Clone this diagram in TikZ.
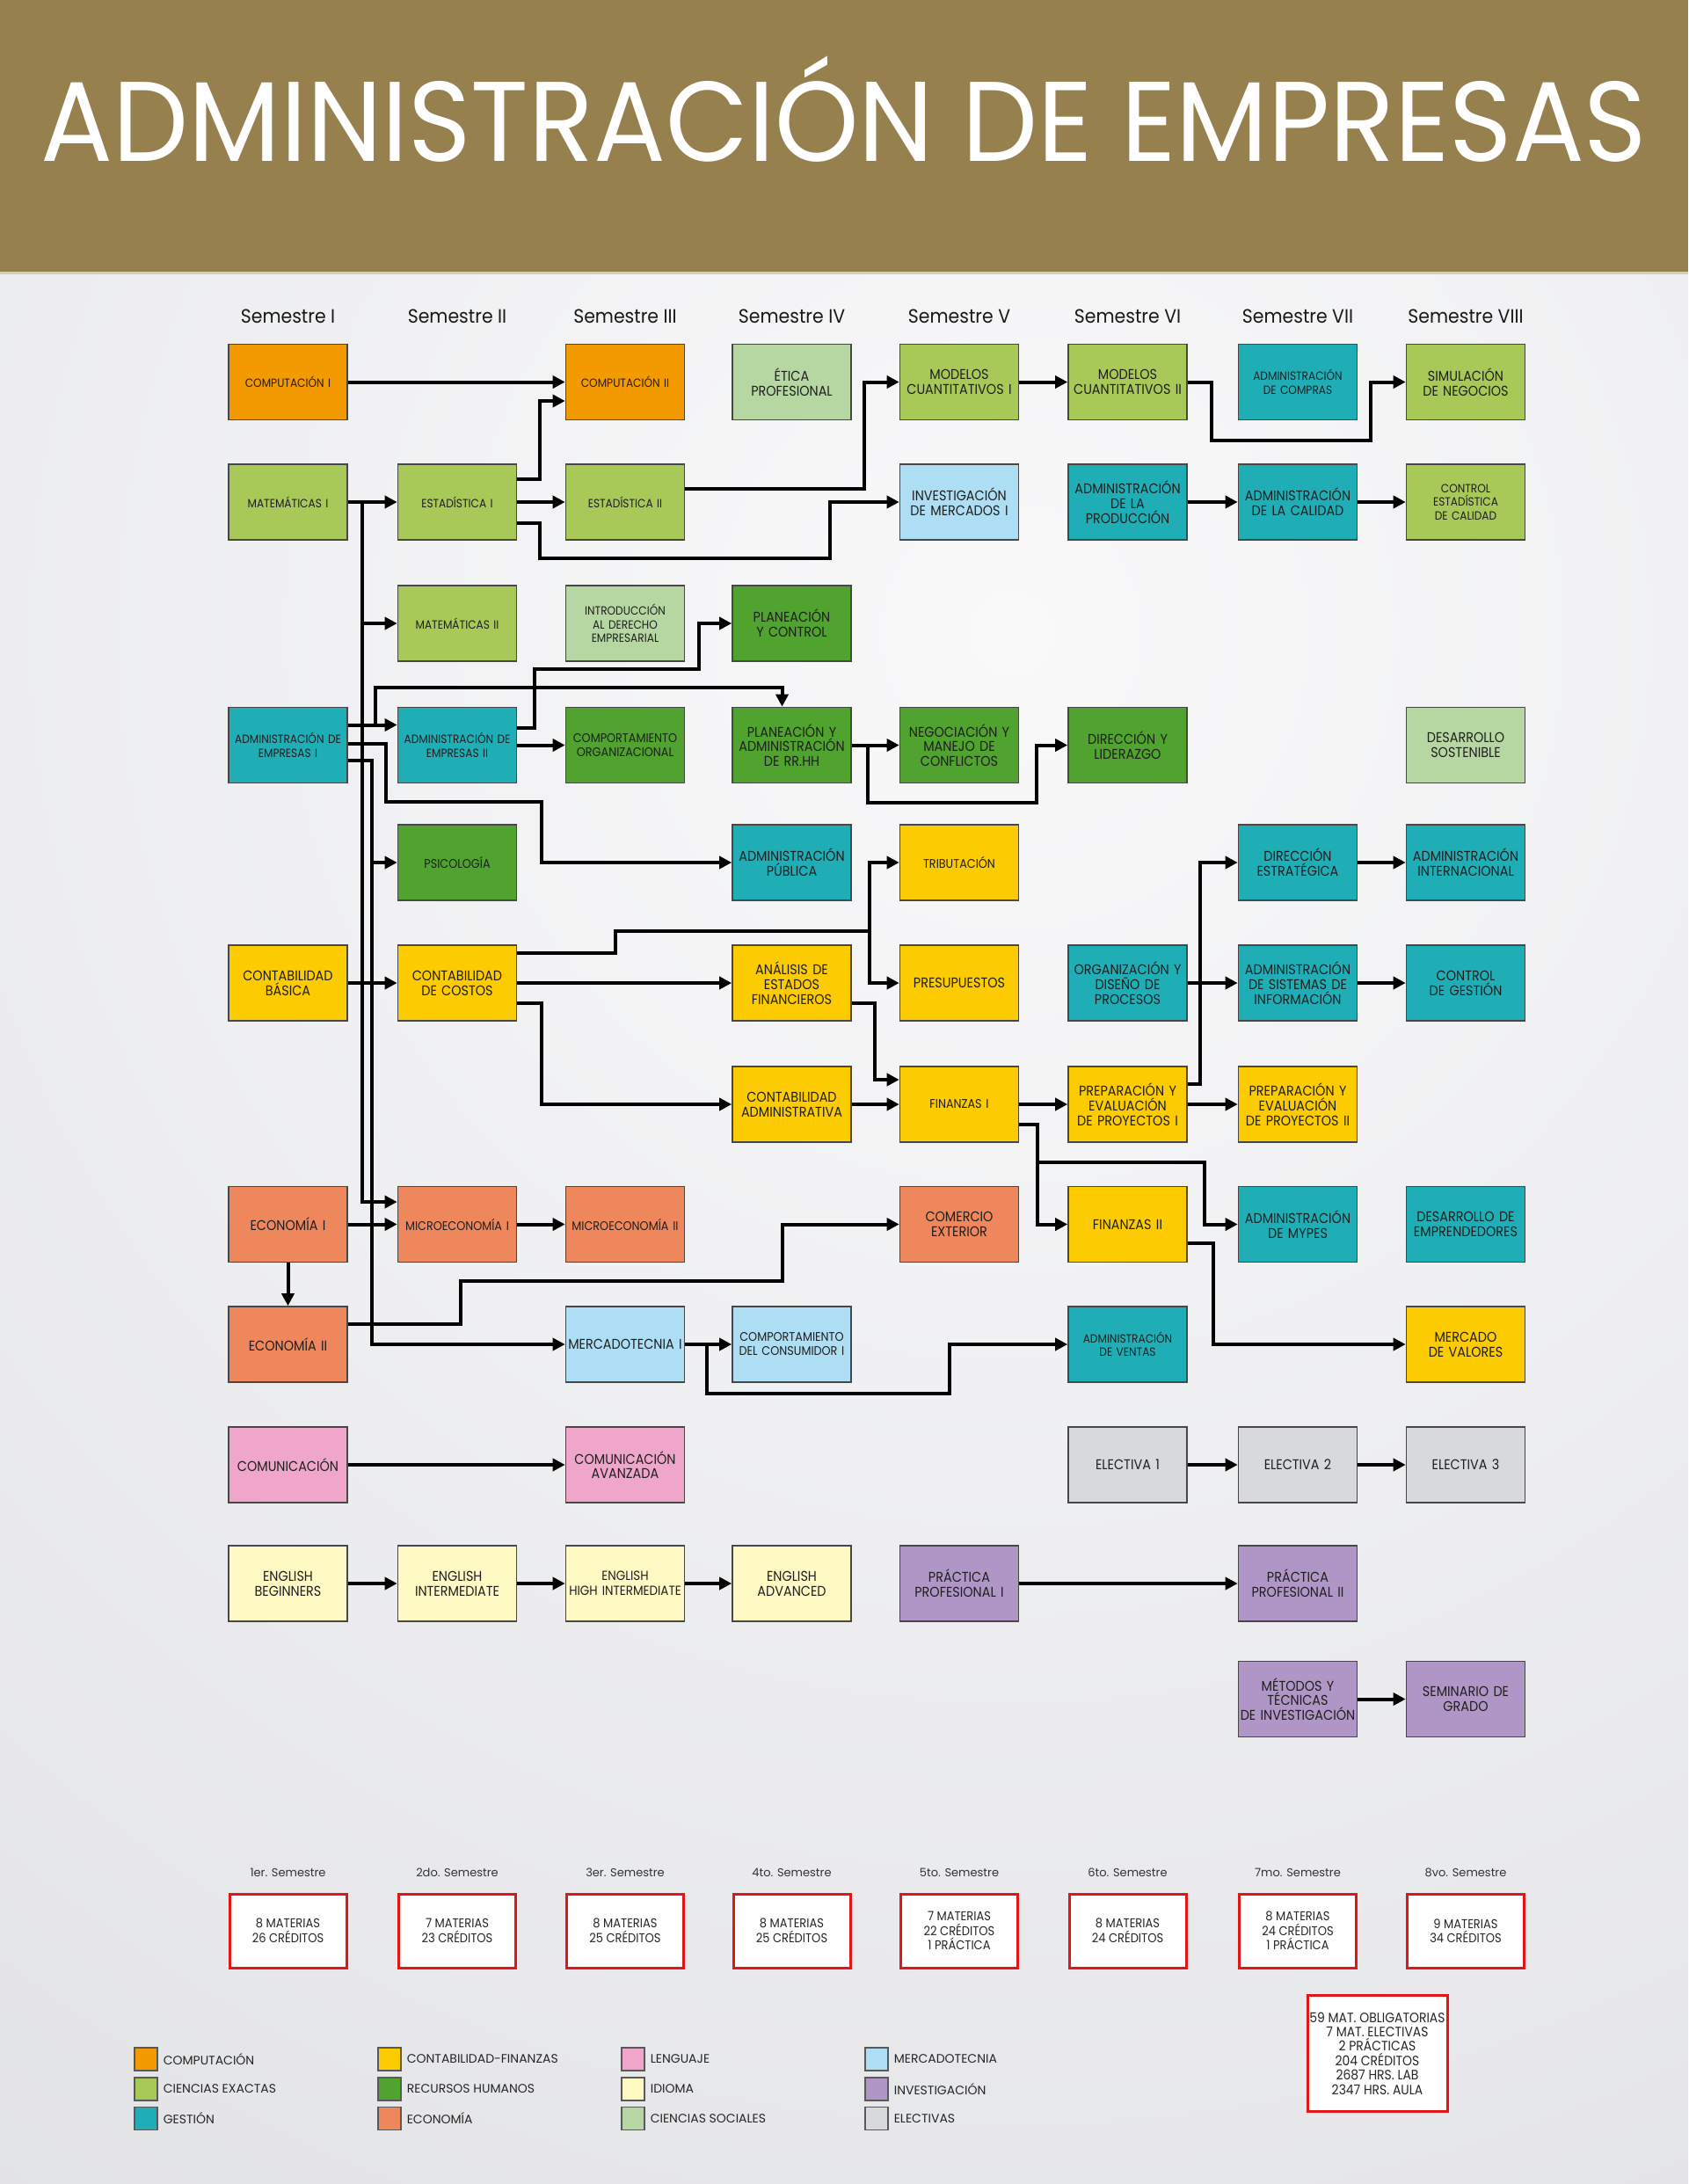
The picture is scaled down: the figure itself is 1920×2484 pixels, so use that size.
\documentclass[tikz,border=0pt]{standalone}
\usepackage{fontspec}
\usepackage{graphicx}
\usetikzlibrary{arrows.meta}
\setmainfont{Poppins}
\newfontfamily\boxfont{Poppins}[FakeStretch=0.9]
\newfontfamily\hdfont{Poppins}[FakeStretch=0.93]
\newfontfamily\titlefont{Poppins}

\definecolor{banner}{RGB}{150,128,78}
\definecolor{bannerline}{RGB}{214,205,182}
\definecolor{bgin}{RGB}{249,249,250}
\definecolor{bgout}{RGB}{214,215,219}
\definecolor{cComp}{RGB}{242,154,0}
\definecolor{cExact}{RGB}{168,200,88}
\definecolor{cGest}{RGB}{32,174,182}
\definecolor{cFin}{RGB}{252,203,0}
\definecolor{cRRHH}{RGB}{80,163,46}
\definecolor{cEcon}{RGB}{238,136,92}
\definecolor{cLeng}{RGB}{240,166,202}
\definecolor{cIdio}{RGB}{255,249,196}
\definecolor{cSoc}{RGB}{182,215,162}
\definecolor{cMerc}{RGB}{174,222,244}
\definecolor{cInv}{RGB}{176,150,198}
\definecolor{cElec}{RGB}{216,217,221}
\definecolor{sumred}{RGB}{226,22,22}

% column centres
\def\xA{327.5}\def\xB{520}\def\xC{711}\def\xD{900.5}
\def\xE{1091}\def\xF{1282.5}\def\xG{1476}\def\xH{1667}
% row centres
\def\yA{434.5}\def\yB{571}\def\yC{709}\def\yD{847.5}
\def\yE{981}\def\yF{1118}\def\yG{1256}\def\yH{1392.5}
\def\yI{1529}\def\yJ{1666}\def\yK{1801}\def\yL{1932.5}

\tikzset{
  course/.style={draw=black!72, line width=1.6pt, minimum width=135pt,
    minimum height=86pt, inner sep=0pt, text width=133pt, align=center,
    font=\boxfont\fontsize{16}{16.8}\selectfont, text=black!88},
  smalltxt/.style={font=\boxfont\fontsize{13.5}{15.5}\selectfont},
  midtxt/.style={font=\boxfont\fontsize{14.2}{16}\selectfont},
  conn/.style={line width=4pt, draw=black},
  conarrow/.style={conn, -{Triangle[length=14pt,width=14pt]}},
  sumbox/.style={draw=sumred, line width=3pt, fill=white, minimum width=133pt,
    minimum height=84pt, inner sep=0pt, align=center,
    font=\boxfont\fontsize{14.5}{16.6}\selectfont, text=black!85},
  semlab/.style={font=\fontsize{13}{15}\selectfont, text=black!80, anchor=base},
  swatch/.style={draw=black!65, line width=1.2pt, minimum width=26pt,
    minimum height=26pt, inner sep=0pt},
  legtxt/.style={anchor=west, inner sep=0pt, font=\fontsize{14}{16}\selectfont, text=black!85},
  hdr/.style={font=\hdfont\fontsize{22}{25}\selectfont, anchor=base, text=black!90}
}

\begin{document}
\begin{tikzpicture}[x=1pt,y=-1pt]
\useasboundingbox (0,0) rectangle (1920,2484);

% background
\fill[bgout] (0,311) rectangle (1920,2484);
\begin{scope}
  \clip (0,311) rectangle (1920,2484);
  \shade[inner color=bgin, outer color=bgout] (1150,720) circle (3300);
\end{scope}
\fill[banner] (0,0) rectangle (1920,311);
\fill[bannerline] (0,309) rectangle (1920,312);

% title
\node[anchor=base, inner sep=0pt, text=white] (title) at (960,183)
  {\resizebox{1826pt}{90pt}{\titlefont\raisebox{0pt}[\fontcharht\font`\H][0pt]{ADMINISTRACIÓN DE EMPRESAS}}};

% semester headers
\node[hdr] (h1) at (\xA,367) {Semestre I};
\node[hdr] (h2) at (\xB,367) {Semestre II};
\node[hdr] (h3) at (\xC,367) {Semestre III};
\node[hdr] (h4) at (\xD,367) {Semestre IV};
\node[hdr] (h5) at (\xE,367) {Semestre V};
\node[hdr] (h6) at (\xF,367) {Semestre VI};
\node[hdr] (h7) at (\xG,367) {Semestre VII};
\node[hdr] (h8) at (\xH,367) {Semestre VIII};

% ---------- courses ----------
% row 1
\node[course, fill=cComp, smalltxt] (comp1) at (\xA,\yA) {COMPUTACIÓN I};
\node[course, fill=cComp, smalltxt] (comp2) at (\xC,\yA) {COMPUTACIÓN II};
\node[course, fill=cSoc] (etica) at (\xD,\yA) {ÉTICA\\PROFESIONAL};
\node[course, fill=cExact] (mc1) at (\xE,\yA) {MODELOS\\CUANTITATIVOS I};
\node[course, fill=cExact] (mc2) at (\xF,\yA) {MODELOS\\CUANTITATIVOS II};
\node[course, fill=cGest, smalltxt] (compras) at (\xG,\yA) {ADMINISTRACIÓN\\DE COMPRAS};
\node[course, fill=cExact] (sim) at (\xH,\yA) {SIMULACIÓN\\DE NEGOCIOS};
% row 2
\node[course, fill=cExact, smalltxt] (mat1) at (\xA,\yB) {MATEMÁTICAS I};
\node[course, fill=cExact, smalltxt] (est1) at (\xB,\yB) {ESTADÍSTICA I};
\node[course, fill=cExact, smalltxt] (est2) at (\xC,\yB) {ESTADÍSTICA II};
\node[course, fill=cMerc] (invm) at (\xE,\yB) {INVESTIGACIÓN\\DE MERCADOS I};
\node[course, fill=cGest] (admprod) at (\xF,\yB) {ADMINISTRACIÓN\\DE LA\\PRODUCCIÓN};
\node[course, fill=cGest] (admcal) at (\xG,\yB) {ADMINISTRACIÓN\\DE LA CALIDAD};
\node[course, fill=cExact, smalltxt] (cec) at (\xH,\yB) {CONTROL\\ESTADÍSTICA\\DE CALIDAD};
% row 3
\node[course, fill=cExact, smalltxt] (mat2) at (\xB,\yC) {MATEMÁTICAS II};
\node[course, fill=cSoc, smalltxt] (intder) at (\xC,\yC) {INTRODUCCIÓN\\AL DERECHO\\EMPRESARIAL};
\node[course, fill=cRRHH] (pyc) at (\xD,\yC) {PLANEACIÓN\\Y CONTROL};
% row 4
\node[course, fill=cGest, smalltxt] (adm1) at (\xA,\yD) {ADMINISTRACIÓN DE\\EMPRESAS I};
\node[course, fill=cGest, smalltxt] (adm2) at (\xB,\yD) {ADMINISTRACIÓN DE\\EMPRESAS II};
\node[course, fill=cRRHH, midtxt] (comporg) at (\xC,\yD) {COMPORTAMIENTO\\ORGANIZACIONAL};
\node[course, fill=cRRHH] (pyarh) at (\xD,\yD) {PLANEACIÓN Y\\ADMINISTRACIÓN\\DE RR.HH};
\node[course, fill=cRRHH] (neg) at (\xE,\yD) {NEGOCIACIÓN Y\\MANEJO DE\\CONFLICTOS};
\node[course, fill=cRRHH] (dirlid) at (\xF,\yD) {DIRECCIÓN Y\\LIDERAZGO};
\node[course, fill=cSoc] (dsost) at (\xH,\yD) {DESARROLLO\\SOSTENIBLE};
% row 5
\node[course, fill=cRRHH, midtxt] (psico) at (\xB,\yE) {PSICOLOGÍA};
\node[course, fill=cGest] (admpub) at (\xD,\yE) {ADMINISTRACIÓN\\PÚBLICA};
\node[course, fill=cFin, midtxt] (trib) at (\xE,\yE) {TRIBUTACIÓN};
\node[course, fill=cGest] (direst) at (\xG,\yE) {DIRECCIÓN\\ESTRATÉGICA};
\node[course, fill=cGest] (admint) at (\xH,\yE) {ADMINISTRACIÓN\\INTERNACIONAL};
% row 6
\node[course, fill=cFin] (cbas) at (\xA,\yF) {CONTABILIDAD\\BÁSICA};
\node[course, fill=cFin] (ccost) at (\xB,\yF) {CONTABILIDAD\\DE COSTOS};
\node[course, fill=cFin] (anal) at (\xD,\yF) {ANÁLISIS DE\\ESTADOS\\FINANCIEROS};
\node[course, fill=cFin] (presup) at (\xE,\yF) {PRESUPUESTOS};
\node[course, fill=cGest] (org) at (\xF,\yF) {ORGANIZACIÓN Y\\DISEÑO DE\\PROCESOS};
\node[course, fill=cGest] (asi) at (\xG,\yF) {ADMINISTRACIÓN\\DE SISTEMAS DE\\INFORMACIÓN};
\node[course, fill=cGest] (cgest) at (\xH,\yF) {CONTROL\\DE GESTIÓN};
% row 7
\node[course, fill=cFin] (cadm) at (\xD,\yG) {CONTABILIDAD\\ADMINISTRATIVA};
\node[course, fill=cFin, midtxt] (fin1) at (\xE,\yG) {FINANZAS I};
\node[course, fill=cFin] (prep1) at (\xF,\yG) {PREPARACIÓN Y\\EVALUACIÓN\\DE PROYECTOS I};
\node[course, fill=cFin] (prep2) at (\xG,\yG) {PREPARACIÓN Y\\EVALUACIÓN\\DE PROYECTOS II};
% row 8
\node[course, fill=cEcon] (econ1) at (\xA,\yH) {ECONOMÍA I};
\node[course, fill=cEcon, midtxt] (mic1) at (\xB,\yH) {MICROECONOMÍA I};
\node[course, fill=cEcon, midtxt] (mic2) at (\xC,\yH) {MICROECONOMÍA II};
\node[course, fill=cEcon] (comex) at (\xE,\yH) {COMERCIO\\EXTERIOR};
\node[course, fill=cFin] (fin2) at (\xF,\yH) {FINANZAS II};
\node[course, fill=cGest] (mypes) at (\xG,\yH) {ADMINISTRACIÓN\\DE MYPES};
\node[course, fill=cGest] (emprend) at (\xH,\yH) {DESARROLLO DE\\EMPRENDEDORES};
% row 9
\node[course, fill=cEcon] (econ2) at (\xA,\yI) {ECONOMÍA II};
\node[course, fill=cMerc] (merc1) at (\xC,\yI) {MERCADOTECNIA I};
\node[course, fill=cMerc, midtxt] (ccons) at (\xD,\yI) {COMPORTAMIENTO\\DEL CONSUMIDOR I};
\node[course, fill=cGest, smalltxt] (admven) at (\xF,\yI) {ADMINISTRACIÓN\\DE VENTAS};
\node[course, fill=cFin] (mval) at (\xH,\yI) {MERCADO\\DE VALORES};
% row 10
\node[course, fill=cLeng] (com) at (\xA,\yJ) {COMUNICACIÓN};
\node[course, fill=cLeng] (comav) at (\xC,\yJ) {COMUNICACIÓN\\AVANZADA};
\node[course, fill=cElec] (elec1) at (\xF,\yJ) {ELECTIVA 1};
\node[course, fill=cElec] (elec2) at (\xG,\yJ) {ELECTIVA 2};
\node[course, fill=cElec] (elec3) at (\xH,\yJ) {ELECTIVA 3};
% row 11
\node[course, fill=cIdio] (eng1) at (\xA,\yK) {ENGLISH\\BEGINNERS};
\node[course, fill=cIdio] (eng2) at (\xB,\yK) {ENGLISH\\INTERMEDIATE};
\node[course, fill=cIdio, font=\boxfont\fontsize{15}{16.8}\selectfont] (eng3) at (\xC,\yK) {ENGLISH\\HIGH INTERMEDIATE};
\node[course, fill=cIdio] (eng4) at (\xD,\yK) {ENGLISH\\ADVANCED};
\node[course, fill=cInv] (prac1) at (\xE,\yK) {PRÁCTICA\\PROFESIONAL I};
\node[course, fill=cInv] (prac2) at (\xG,\yK) {PRÁCTICA\\PROFESIONAL II};
% row 12
\node[course, fill=cInv] (metodos) at (\xG,\yL) {MÉTODOS Y\\TÉCNICAS\\DE INVESTIGACIÓN};
\node[course, fill=cInv] (seminario) at (\xH,\yL) {SEMINARIO DE\\GRADO};

% ---------- prerequisites ----------
\draw[conarrow] (comp1.east) -- (comp2.west);
\draw[conarrow] ([yshift=26pt]est1.east) -| (614,456) -- ([yshift=-21.5pt]comp2.west);
\draw[conarrow] (est1.east) -- (est2.west);
\draw[conarrow] ([yshift=-24pt]est1.east) -| (614,635) -| (944,\yB) -- (invm.west);
\draw[conarrow] ([yshift=15pt]est2.east) -| (983,\yA) -- (mc1.west);
\draw[conarrow] (mc1.east) -- (mc2.west);
\draw[conarrow] (mc2.east) -| (1378,501) -| (1559,\yA) -- (sim.west);
\draw[conarrow] (admprod.east) -- (admcal.west);
\draw[conarrow] (admcal.east) -- (cec.west);

% mathematics trunk
\draw[conarrow] (mat1.east) -- (est1.west);
\draw[conarrow] (mat1.east) -| (412,1367) -- ([yshift=25.5pt]mic1.west);
\draw[conarrow] (412,\yC) -- (mat2.west);

% administration trunks
\draw[conarrow] ([yshift=23pt]adm1.east) -- ([yshift=23pt]adm2.west);
\draw[conarrow] (427,824.5) -- (427,782) -| ([xshift=-11pt]pyarh.north);
\draw[conarrow] ([yshift=1.5pt]adm1.east) -| (439,912) -| (616,\yE) -- (admpub.west);
\draw[conarrow] ([yshift=-17pt]adm1.east) -| (423,\yI) -- (merc1.west);
\draw[conarrow] (423,\yE) -- (psico.west);
\draw[conarrow] ([yshift=19.5pt]adm2.east) -| (608,761) -| (795,\yC) -- (pyc.west);
\draw[conarrow] (adm2.east) -- (comporg.west);
\draw[conarrow] (pyarh.east) -- (neg.west);
\draw[conarrow] (987,\yD) |- (1178.5,913) |- (dirlid.west);

% accounting and finance
\draw[conarrow] (cbas.east) -- (ccost.west);
\draw[conn] ([yshift=34.5pt]ccost.east) -| (699.5,1059) -- (989,1059);
\draw[conarrow] (989,1059) |- (trib.west);
\draw[conarrow] (989,1059) |- (presup.west);
\draw[conarrow] (ccost.east) -- (anal.west);
\draw[conarrow] ([yshift=-23.4pt]ccost.east) -| (616,\yG) -- (cadm.west);
\draw[conarrow] ([yshift=-23.4pt]anal.east) -| (995,1228) -- ([yshift=28pt]fin1.west);
\draw[conarrow] (cadm.east) -- (fin1.west);
\draw[conarrow] (fin1.east) -- (prep1.west);
\draw[conarrow] ([yshift=-23pt]fin1.east) -| (1179.5,\yH) -- (fin2.west);
\draw[conarrow] (1179.5,1322) -| (1370,\yH) -- (mypes.west);
\draw[conarrow] (prep1.east) -- (prep2.west);
\draw[conarrow] ([yshift=23pt]prep1.east) -| (1365,\yE) -- (direst.west);
\draw[conarrow] (org.east) -- (asi.west);
\draw[conarrow] (direst.east) -- (admint.west);
\draw[conarrow] (asi.east) -- (cgest.west);
\draw[conarrow] ([yshift=-21.5pt]fin2.east) -| (1380,\yI) -- (mval.west);

% economics and marketing
\draw[conarrow] (econ1.east) -- (mic1.west);
\draw[conarrow] (econ1.south) -- (econ2.north);
\draw[conarrow] (mic1.east) -- (mic2.west);
\draw[conarrow] ([yshift=23pt]econ2.east) -| (523.5,1457) -| (889.5,\yH) -- (comex.west);
\draw[conarrow] (merc1.east) -- (ccons.west);
\draw[conarrow] (803.5,\yI) |- (1080,1585) |- (admven.west);

% language, electives, research
\draw[conarrow] (com.east) -- (comav.west);
\draw[conarrow] (elec1.east) -- (elec2.west);
\draw[conarrow] (elec2.east) -- (elec3.west);
\draw[conarrow] (eng1.east) -- (eng2.west);
\draw[conarrow] (eng2.east) -- (eng3.west);
\draw[conarrow] (eng3.east) -- (eng4.west);
\draw[conarrow] (prac1.east) -- (prac2.west);
\draw[conarrow] (metodos.east) -- (seminario.west);

% ---------- credits per semester ----------
\node[semlab] (s1) at (\xA,2134) {1er. Semestre};
\node[semlab] (s2) at (\xB,2134) {2do. Semestre};
\node[semlab] (s3) at (\xC,2134) {3er. Semestre};
\node[semlab] (s4) at (\xD,2134) {4to. Semestre};
\node[semlab] (s5) at (\xE,2134) {5to. Semestre};
\node[semlab] (s6) at (\xF,2134) {6to. Semestre};
\node[semlab] (s7) at (\xG,2134) {7mo. Semestre};
\node[semlab] (s8) at (\xH,2134) {8vo. Semestre};

\node[sumbox] (t1) at (\xA,2196) {8 MATERIAS\\26 CRÉDITOS};
\node[sumbox] (t2) at (\xB,2196) {7 MATERIAS\\23 CRÉDITOS};
\node[sumbox] (t3) at (\xC,2196) {8 MATERIAS\\25 CRÉDITOS};
\node[sumbox] (t4) at (\xD,2196) {8 MATERIAS\\25 CRÉDITOS};
\node[sumbox] (t5) at (\xE,2196) {7 MATERIAS\\22 CRÉDITOS\\1 PRÁCTICA};
\node[sumbox] (t6) at (\xF,2196) {8 MATERIAS\\24 CRÉDITOS};
\node[sumbox] (t7) at (\xG,2196) {8 MATERIAS\\24 CRÉDITOS\\1 PRÁCTICA};
\node[sumbox] (t8) at (\xH,2196) {9 MATERIAS\\34 CRÉDITOS};

\node[sumbox, minimum width=159pt, minimum height=132pt,
  font=\boxfont\fontsize{15.5}{16.4}\selectfont] (total) at (1566.5,2335.5)
  {59 MAT. OBLIGATORIAS\\7 MAT. ELECTIVAS\\2 PRÁCTICAS\\204 CRÉDITOS\\2687 HRS. LAB\\2347 HRS. AULA};

% ---------- legend ----------
\node[swatch, fill=cComp]  (l1) at (166,2342) {};
\node[swatch, fill=cExact] (l2) at (166,2376) {};
\node[swatch, fill=cGest]  (l3) at (166,2409.5) {};
\node[swatch, fill=cFin]   (l4) at (443,2342) {};
\node[swatch, fill=cRRHH]  (l5) at (443,2376) {};
\node[swatch, fill=cEcon]  (l6) at (443,2409.5) {};
\node[swatch, fill=cLeng]  (l7) at (720,2342) {};
\node[swatch, fill=cIdio]  (l8) at (720,2376) {};
\node[swatch, fill=cSoc]   (l9) at (720,2409.5) {};
\node[swatch, fill=cMerc]  (l10) at (997,2342) {};
\node[swatch, fill=cInv]   (l11) at (997,2376) {};
\node[swatch, fill=cElec]  (l12) at (997,2409.5) {};

\node[legtxt] at ([xshift=6pt]l1.east) {COMPUTACIÓN};
\node[legtxt] at ([xshift=6pt]l2.east) {CIENCIAS EXACTAS};
\node[legtxt] at ([xshift=6pt]l3.east) {GESTIÓN};
\node[legtxt] at ([xshift=6pt]l4.east) {CONTABILIDAD-FINANZAS};
\node[legtxt] at ([xshift=6pt]l5.east) {RECURSOS HUMANOS};
\node[legtxt] at ([xshift=6pt]l6.east) {ECONOMÍA};
\node[legtxt] at ([xshift=6pt]l7.east) {LENGUAJE};
\node[legtxt] at ([xshift=6pt]l8.east) {IDIOMA};
\node[legtxt] at ([xshift=6pt]l9.east) {CIENCIAS SOCIALES};
\node[legtxt] at ([xshift=6pt]l10.east) {MERCADOTECNIA};
\node[legtxt] at ([xshift=6pt]l11.east) {INVESTIGACIÓN};
\node[legtxt] at ([xshift=6pt]l12.east) {ELECTIVAS};
\end{tikzpicture}
\end{document}
